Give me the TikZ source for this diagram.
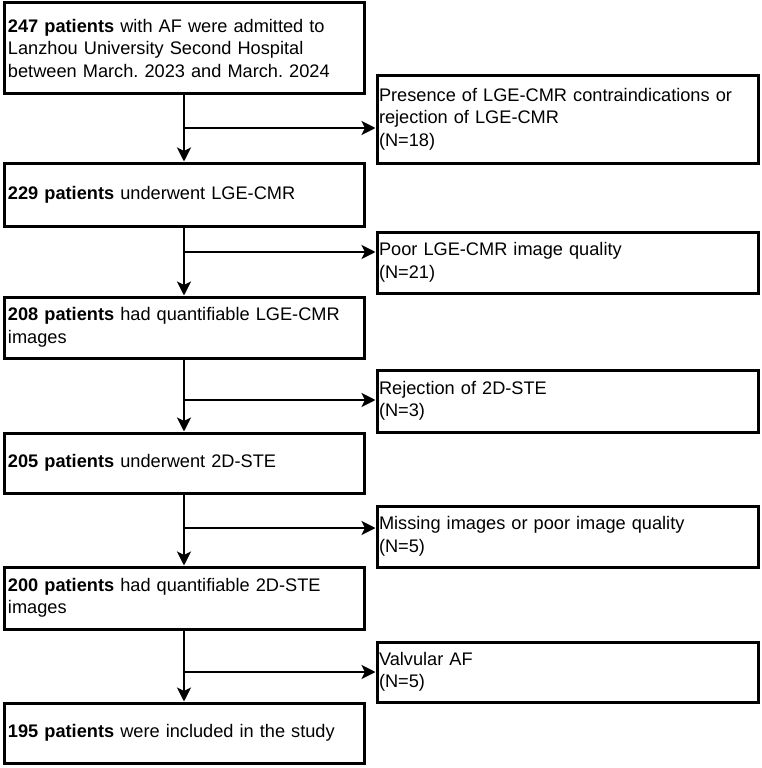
\documentclass[tikz,border=0pt]{standalone}
\usepackage{fontspec}
\setmainfont{Liberation Sans}
\frenchspacing
\usetikzlibrary{arrows.meta}

\begin{document}
\begin{tikzpicture}[x=1pt,y=-1pt,
  box/.style={draw,line width=3pt,rectangle,align=left,inner ysep=1pt,
    font=\fontsize{18.2}{22.5}\selectfont},
  mainbox/.style={box,inner xsep=4pt,text width=352pt,minimum width=360pt},
  sidebox/.style={box,inner xsep=2pt,text width=377pt,minimum width=381pt},
  arr/.style={line width=2.7pt,-{Stealth[length=14pt,width=14pt,inset=3.5pt]}}]

\useasboundingbox (0,0) rectangle (762,768);

% main flow
\node[mainbox,minimum height=90pt] (b1) at (184,48)
  {\textbf{247 patients} with AF were admitted to\\Lanzhou University Second Hospital\\between March. 2023 and March. 2024};
\node[mainbox,minimum height=63pt] (b2) at (184,194.5)
  {\textbf{229 patients} underwent LGE-CMR};
\node[mainbox,minimum height=61pt] (b3) at (184,327.5)
  {\textbf{208 patients} had quantifiable LGE-CMR\\images};
\node[mainbox,minimum height=60pt] (b4) at (184,463)
  {\textbf{205 patients} underwent 2D-STE};
\node[mainbox,minimum height=62pt] (b5) at (184,598)
  {\textbf{200 patients} had quantifiable 2D-STE\\images};
\node[mainbox,minimum height=60pt] (b6) at (184,733)
  {\textbf{195 patients} were included in the study};

% exclusions
\node[sidebox,minimum height=88pt] (x1) at (567.5,119)
  {Presence of LGE-CMR contraindications or\\rejection of LGE-CMR\\(N=18)};
\node[sidebox,minimum height=61pt] (x2) at (567.5,262.5)
  {Poor LGE-CMR image quality\\(N=21)};
\node[sidebox,minimum height=62pt] (x3) at (567.5,401)
  {Rejection of 2D-STE\\(N=3)};
\node[sidebox,minimum height=61pt] (x4) at (567.5,536.5)
  {Missing images or poor image quality\\(N=5)};
\node[sidebox,minimum height=60pt] (x5) at (567.5,672)
  {Valvular AF\\(N=5)};

\coordinate (j1) at (184,128);
\coordinate (j2) at (184,252);
\coordinate (j3) at (184,400);
\coordinate (j4) at (184,528);
\coordinate (j5) at (184,672);

\draw[arr] (b1) -- (b2);
\draw[arr] (b2) -- (b3);
\draw[arr] (b3) -- (b4);
\draw[arr] (b4) -- (b5);
\draw[arr] (b5) -- (b6);

\draw[arr] (j1) -- (j1 -| x1.west);
\draw[arr] (j2) -- (j2 -| x2.west);
\draw[arr] (j3) -- (j3 -| x3.west);
\draw[arr] (j4) -- (j4 -| x4.west);
\draw[arr] (j5) -- (j5 -| x5.west);

\end{tikzpicture}
\end{document}
